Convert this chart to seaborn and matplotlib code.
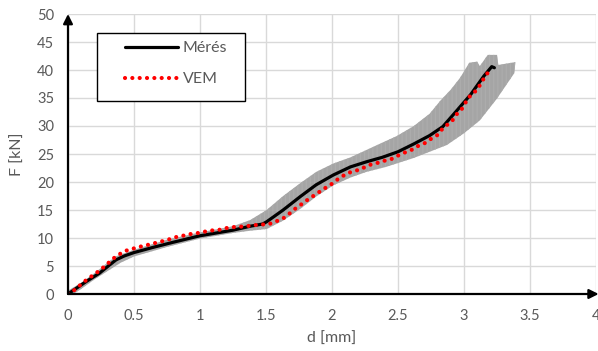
import matplotlib
matplotlib.use("Agg")
import matplotlib.pyplot as plt
from matplotlib.patches import Rectangle
import seaborn as sns
import pandas as pd

# Measured curve (Mérés)
meres_d = [0, 0.136, 0.237, 0.30, 0.364, 0.427, 0.50, 0.64, 0.79, 1.0, 1.25, 1.38, 1.475, 1.505,
           1.63, 1.76, 1.88, 2.01, 2.14, 2.26, 2.38, 2.50, 2.62, 2.74, 2.84, 2.94, 3.05, 3.15, 3.21, 3.23]
meres_f = [0, 2.2, 3.7, 4.9, 6.1, 6.8, 7.4, 8.3, 9.2, 10.4, 11.4, 12.1, 12.5, 12.9,
           15.0, 17.4, 19.5, 21.25, 22.7, 23.6, 24.4, 25.4, 26.8, 28.3, 29.9, 32.6, 35.6, 38.9, 40.6, 40.4]

# FEM curve (VEM)
vem_d = [0, 0.048, 0.098, 0.149, 0.2, 0.25, 0.295, 0.338, 0.389, 0.447, 0.508, 0.571, 0.629, 0.69,
         0.747, 0.805, 0.869, 0.927, 0.987, 1.07, 1.16, 1.22, 1.29, 1.35, 1.41, 1.47, 1.525, 1.58,
         1.63, 1.68, 1.73, 1.78, 1.83, 1.88, 1.93, 1.98, 2.02, 2.07, 2.12, 2.22, 2.275, 2.33, 2.39,
         2.45, 2.49, 2.545, 2.60, 2.65, 2.70, 2.75, 2.80, 2.84, 2.91, 2.94, 2.98, 3.01, 3.03, 3.07,
         3.11, 3.13, 3.17, 3.20]
vem_f = [0, 0.7, 1.7, 2.7, 3.5, 4.4, 5.3, 6.25, 7.1, 7.8, 8.2, 8.6, 8.9, 9.3,
         9.6, 10.1, 10.4, 10.7, 10.9, 11.3, 11.5, 11.9, 12.0, 12.1, 12.3, 12.4, 12.5, 13.0,
         13.5, 14.4, 15.4, 16.2, 17.1, 17.8, 18.7, 19.3, 20.1, 20.9, 21.6, 22.3, 23.0, 23.3, 23.75,
         24.1, 24.6, 25.2, 25.7, 26.4, 26.9, 27.7, 28.4, 29.6, 30.9, 32.0, 32.9, 34.1, 35.0, 35.8,
         36.8, 37.8, 39.1, 40.4]

# Scatter band of the measurements (outline: upper edge left->right, lower edge right->left)
band_upper_d = [0, 0.1, 0.2, 0.3, 0.36, 0.5, 0.75, 1.0, 1.25, 1.38, 1.505, 1.63, 1.76, 1.88, 2.01,
                2.14, 2.36, 2.49, 2.62, 2.74, 2.82, 2.90, 2.97, 3.04, 3.10, 3.12, 3.18, 3.25, 3.26,
                3.36, 3.39, 3.38]
band_upper_f = [0.6, 2.0, 3.7, 5.6, 6.7, 7.9, 9.7, 11.0, 12.1, 13.2, 15.0, 17.5, 19.8, 21.8, 23.3,
                24.4, 26.8, 28.2, 30.0, 32.2, 34.5, 36.5, 38.6, 41.3, 41.5, 40.7, 42.7, 42.7, 40.9,
                41.3, 41.4, 39.4]
band_lower_d = [3.38, 3.25, 3.12, 3.0, 2.87, 2.62, 2.41, 2.26, 2.14, 2.01, 1.88, 1.76, 1.63, 1.505,
                1.38, 1.25, 1.0, 0.75, 0.5, 0.4, 0.3, 0.2, 0.1, 0.04]
band_lower_f = [39.4, 34.9, 31.0, 28.7, 26.6, 24.3, 22.7, 21.8, 20.8, 19.4, 17.4, 15.2, 13.1, 11.6,
                11.3, 10.9, 9.9, 8.4, 6.7, 5.6, 4.1, 2.6, 0.9, 0]

x_ticks = [0, 0.5, 1, 1.5, 2, 2.5, 3, 3.5, 4]
x_tick_labels = ["0", "0.5", "1", "1.5", "2", "2.5", "3", "3.5", "4"]
y_ticks = [0, 5, 10, 15, 20, 25, 30, 35, 40, 45, 50]

sns.set_style("white")
plt.rcParams["font.family"] = ["Lato", "DejaVu Sans"]
plt.rcParams["hatch.linewidth"] = 0.8

W, H = 598, 351
L, R, T, B = 68, 596, 14, 294
fig = plt.figure(figsize=(W / 100, H / 100), dpi=100)
ax = fig.add_axes([L / W, (H - B) / H, (R - L) / W, (B - T) / H])

def fx(px):
    return (px - L) / (R - L)

def fy(py):
    return (B - py) / (B - T)

txt = "#595959"
grid_c = "#D9D9D9"

# band
poly_d = band_upper_d + band_lower_d
poly_f = band_upper_f + band_lower_f
ax.fill(poly_d, poly_f, facecolor="#A5A5A5", lw=0, zorder=2, hatch="||||", edgecolor="#ADADAD")

df_m = pd.DataFrame({"d": meres_d, "F": meres_f})
df_v = pd.DataFrame({"d": vem_d, "F": vem_f})
sns.lineplot(data=df_m, x="d", y="F", ax=ax, color="black", lw=2.3, sort=False,
             estimator=None, label="Mérés", zorder=3)
sns.lineplot(data=df_v, x="d", y="F", ax=ax, color="#FF0000", lw=3.0, sort=False,
             estimator=None, label="VEM", zorder=4, linestyle=(0, (0.01, 1.75)))
for l in ax.get_lines():
    l.set_dash_capstyle("round")
    l.set_solid_capstyle("round")
    l.set_solid_joinstyle("round")

ax.set_xlim(0, 4)
ax.set_ylim(0, 50)
ax.set_xticks(x_ticks)
ax.set_xticklabels(x_tick_labels)
ax.set_yticks(y_ticks)
ax.grid(True, color=grid_c, lw=1.0)
ax.set_axisbelow(True)
for s in ax.spines.values():
    s.set_visible(False)
ax.tick_params(axis="both", length=0, labelsize=10.5, colors=txt)
ax.tick_params(axis="x", pad=11)
ax.tick_params(axis="y", pad=10)
ax.set_xlabel("d [mm]", fontsize=11.5, color=txt, labelpad=6)
ax.set_ylabel("F [kN]", fontsize=11.5, color=txt, labelpad=9)

# axis arrows
ax.annotate("", xy=(1.005, 0), xytext=(0, 0), xycoords="axes fraction",
            arrowprops=dict(arrowstyle="-|>", color="black", lw=1.6, mutation_scale=14,
                            shrinkA=0, shrinkB=0), annotation_clip=False, zorder=6)
ax.annotate("", xy=(0, 1.0), xytext=(0, 0), xycoords="axes fraction",
            arrowprops=dict(arrowstyle="-|>", color="black", lw=1.6, mutation_scale=14,
                            shrinkA=0, shrinkB=0), annotation_clip=False, zorder=6)

# legend box
ax.add_patch(Rectangle((fx(97), fy(101)), fx(245) - fx(97), fy(33) - fy(101),
                       transform=ax.transAxes, facecolor="white", edgecolor="black",
                       lw=1.0, zorder=7, clip_on=False))
leg = ax.legend(loc="upper left", bbox_to_anchor=(fx(125), fy(41)),
                frameon=False, fontsize=11.5, borderpad=0, labelspacing=1.05,
                handlelength=3.3, handletextpad=0.3, borderaxespad=0)
leg.set_zorder(8)
for t in leg.get_texts():
    t.set_color(txt)

fig.savefig("out.png", dpi=100)
